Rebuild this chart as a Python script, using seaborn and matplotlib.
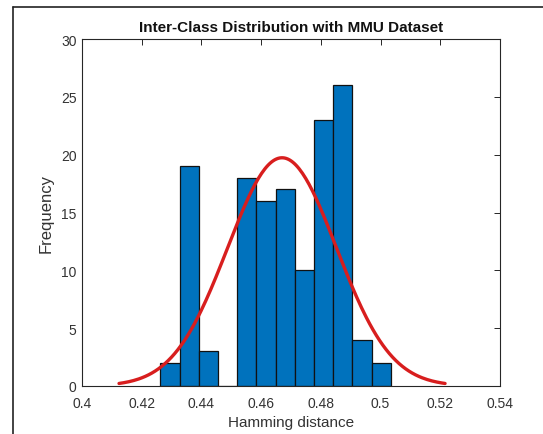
import numpy as np
import pandas as pd
import matplotlib
matplotlib.use("Agg")
import matplotlib.pyplot as plt
import seaborn as sns
from matplotlib.lines import Line2D

# Histogram of inter-class Hamming distances
bin_start = 0.42625
bin_width = 0.00643
counts = [2, 19, 3, 0, 18, 16, 17, 10, 23, 26, 4, 2]

# Fitted normal distribution parameters
fit_mu = 0.4670
fit_sigma = 0.0182

x_ticks = [0.40, 0.42, 0.44, 0.46, 0.48, 0.50, 0.52, 0.54]
x_ticklabels = ["0.4", "0.42", "0.44", "0.46", "0.48", "0.5", "0.52", "0.54"]
y_ticks = [0, 5, 10, 15, 20, 25, 30]

edges = bin_start + bin_width * np.arange(len(counts) + 1)
centers = (edges[:-1] + edges[1:]) / 2
df = pd.DataFrame({"distance": centers, "count": counts})

# Normal curve scaled to counts, drawn over mean +/- 3 sigma
n = np.sum(counts)
xs = np.linspace(fit_mu - 3 * fit_sigma, fit_mu + 3 * fit_sigma, 200)
pdf = n * bin_width * np.exp(-0.5 * ((xs - fit_mu) / fit_sigma) ** 2) / (fit_sigma * np.sqrt(2 * np.pi))
fit = pd.DataFrame({"distance": xs, "freq": pdf})

sns.set_style("white")
plt.rcParams["font.family"] = ["Liberation Sans", "DejaVu Sans"]

fig = plt.figure(figsize=(5.43, 4.35), dpi=100)
ax = fig.add_axes([82 / 543, 1 - 387 / 435, (500 - 82) / 543, (387 - 40) / 435])

sns.histplot(data=df, x="distance", weights="count", bins=list(edges), ax=ax,
             color="#0072BD", alpha=1.0, edgecolor="#111111", linewidth=0.9)
sns.lineplot(data=fit, x="distance", y="freq", ax=ax, color="#D81E1E", linewidth=2.4)

ax.set_xlim(0.40, 0.54)
ax.set_ylim(0, 30)
ax.set_xticks(x_ticks)
ax.set_xticklabels(x_ticklabels)
ax.set_yticks(y_ticks)

axis_col = "#262626"
for s in ax.spines.values():
    s.set_visible(True)
    s.set_color(axis_col)
    s.set_linewidth(0.8)
ax.tick_params(direction="in", length=4, width=0.7, colors=axis_col,
               top=True, right=True, labelsize=10, labelcolor="#333333")
ax.tick_params(axis="x", pad=7)
ax.tick_params(axis="y", pad=4)

ax.set_xlabel("Hamming distance", fontsize=11, color="#333333", labelpad=4)
ax.set_ylabel("Frequency", fontsize=12, color="#333333", labelpad=5)
ax.set_title("Inter-Class Distribution with MMU Dataset", fontsize=11,
             fontweight="bold", color="#111111", pad=5.5)

# Window frame lines (left and top)
fig.add_artist(Line2D([12.5 / 543, 12.5 / 543], [0, 1 - 7.5 / 435],
                      transform=fig.transFigure, color="#222222", linewidth=1.2))
fig.add_artist(Line2D([12.5 / 543, 1], [1 - 7.5 / 435, 1 - 7.5 / 435],
                      transform=fig.transFigure, color="#222222", linewidth=1.2))

fig.savefig("out.png", dpi=100)
